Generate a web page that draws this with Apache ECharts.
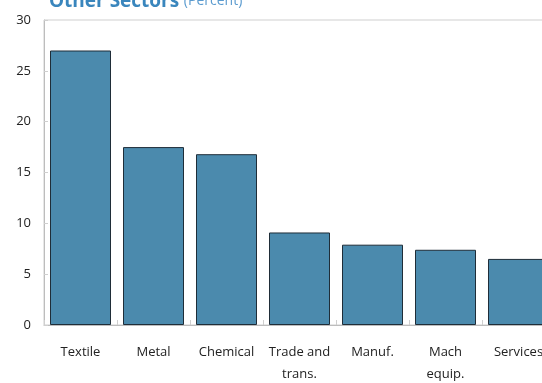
<!DOCTYPE html>
<html>
<head>
<meta charset="utf-8">
<script src="https://cdn.jsdelivr.net/npm/echarts@6/dist/echarts.min.js"></script>
<style>html,body{margin:0;padding:0;background:#fff}#c{width:542px;height:383px}</style>
</head>
<body>
<div id="c"></div>
<script>
const categories = ['Textile', 'Metal', 'Chemical', 'Trade and\ntrans.', 'Manuf.', 'Mach\nequip.', 'Services'];
const values = [27.0, 17.5, 16.8, 9.1, 7.9, 7.4, 6.5];
const yTicks = [0, 5, 10, 15, 20, 25, 30];

const chart = echarts.init(document.getElementById('c'), null, {renderer: 'canvas'});
chart.setOption({
  animation: false,
  textStyle: {fontFamily: 'Open Sans'},
  title: {
    left: 44, top: -13,
    text: '{b|Other Sectors} {n|(Percent)}',
    textStyle: {
      fontWeight: 'normal',
      rich: {
        b: {fontFamily: 'Open Sans', fontWeight: 'bold', fontSize: 19, color: '#3a86bd'},
        n: {fontFamily: 'Open Sans', fontWeight: 'normal', fontSize: 14, color: '#5b9bcf'}
      }
    }
  },
  grid: {left: 44, top: 20, right: -13, bottom: 58, show: true, borderColor: '#cfcfcf', borderWidth: 1,
    containLabel: false, outerBoundsMode: 'none'},
  xAxis: {
    type: 'category', data: categories,
    axisLine: {lineStyle: {color: '#bdbdbd', width: 1}},
    axisTick: {show: true, inside: true, length: 5, lineStyle: {color: '#cfcfcf'}},
    axisLabel: {color: '#222', fontSize: 13, margin: 16, lineHeight: 22, interval: 0}
  },
  yAxis: {
    type: 'value', min: 0, max: 30, interval: 5,
    axisLine: {show: true, lineStyle: {color: '#bdbdbd', width: 1}},
    axisTick: {show: true, inside: true, length: 4, lineStyle: {color: '#cfcfcf'}},
    splitLine: {show: false},
    axisLabel: {color: '#222', fontSize: 13, margin: 13,
      formatter: v => yTicks.includes(v) ? String(v) : ''}
  },
  series: [{
    type: 'bar', data: values, barWidth: 61,
    itemStyle: {color: '#4b8aad', borderColor: '#1f2d38', borderWidth: 1}
  }]
});
</script>
</body>
</html>
